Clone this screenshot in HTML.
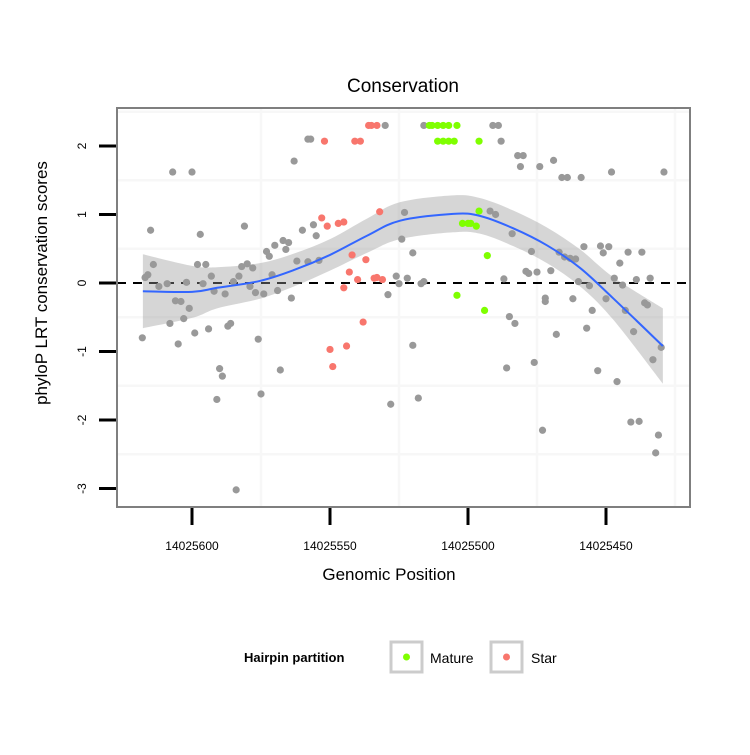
<!DOCTYPE html>
<html><head><meta charset="utf-8"><style>
html,body{margin:0;padding:0;background:#fff}
svg text{font-family:"Liberation Sans",sans-serif}
</style></head><body>
<svg id="chart" width="750" height="750" xmlns="http://www.w3.org/2000/svg">
<rect width="750" height="750" fill="#fff"/>
<text x="403" y="92" font-size="19" text-anchor="middle">Conservation</text>
<text x="389" y="580" font-size="17" text-anchor="middle">Genomic Position</text>
<text transform="translate(47,283) rotate(-90)" font-size="17" text-anchor="middle">phyloP LRT conservation scores</text>
<g id="grid"></g>
<g id="band-g"></g>
<g id="points-g"></g>
<g id="line-g"></g>
<rect x="117" y="108" width="573" height="399" fill="none" stroke="#7f7f7f" stroke-width="2"/>
<g id="axes"></g>
<g>
<text x="244" y="662" font-size="13" font-weight="bold">Hairpin partition</text>
<rect x="391" y="642" width="31" height="30" fill="#fff" stroke="#cccccc" stroke-width="3"/>
<circle cx="406.5" cy="657" r="3.5" fill="#7fff00"/>
<text x="430" y="663" font-size="14">Mature</text>
<rect x="491" y="642" width="31" height="30" fill="#fff" stroke="#cccccc" stroke-width="3"/>
<circle cx="506.5" cy="657" r="3.5" fill="#f8766d"/>
<text x="531" y="663" font-size="14">Star</text>
</g>
</svg>
<script>
const xTicks=[14025600,14025550,14025500,14025450];
const yTicks=[2,1,0,-1,-2,-3];
const greyPos=[14025530,14025558,14025557,14025563,14025607,14025600,14025615,14025597,14025581,14025560,14025556,14025555,14025523,14025524,14025573,14025572,14025570,14025567,14025565,14025566,14025598,14025595,14025614,14025616,14025617,14025612,14025609,14025602,14025596,14025593,14025592,14025588,14025585,14025583,14025582,14025580,14025578,14025579,14025577,14025574,14025571,14025569,14025564,14025562,14025558,14025554,14025526,14025525,14025529,14025606,14025604,14025601,14025608,14025603,14025618,14025605,14025599,14025594,14025587,14025586,14025576,14025590,14025589,14025568,14025575,14025591,14025528,14025584,
14025516,14025491,14025489,14025488,14025482,14025480,14025481,14025474,14025469,14025466,14025464,14025459,14025448,14025429,14025492,14025490,14025484,14025520,14025477,14025467,14025465,14025463,14025461,14025458,14025452,14025451,14025449,14025442,14025437,14025445,14025479,14025478,14025475,14025470,14025522,14025517,14025516,14025487,14025460,14025456,14025447,14025444,14025439,14025434,14025472,14025472,14025462,14025450,14025436,14025435,14025455,14025443,14025485,14025483,14025457,14025468,14025440,14025430,14025520,14025486,14025476,14025453,14025446,14025433,14025518,14025441,14025438,14025431,14025473,14025432];
const greyScore=[2.30,2.10,2.10,1.78,1.62,1.62,0.77,0.71,0.83,0.77,0.85,0.69,1.03,0.64,0.46,0.39,0.55,0.62,0.59,0.49,0.27,0.27,0.27,0.12,0.08,-0.05,-0.01,0.01,-0.01,0.10,-0.12,-0.16,0.02,0.10,0.24,0.28,0.22,-0.05,-0.14,-0.16,0.12,-0.11,-0.22,0.32,0.31,0.33,0.10,-0.01,-0.17,-0.26,-0.27,-0.37,-0.59,-0.52,-0.80,-0.89,-0.73,-0.67,-0.63,-0.59,-0.82,-1.25,-1.36,-1.27,-1.62,-1.70,-1.77,-3.02,
2.30,2.30,2.30,2.07,1.86,1.86,1.70,1.70,1.79,1.54,1.54,1.54,1.62,1.62,1.05,1.00,0.72,0.44,0.46,0.45,0.38,0.36,0.35,0.53,0.54,0.44,0.53,0.45,0.45,0.29,0.17,0.14,0.16,0.18,0.07,-0.01,0.02,0.06,0.02,-0.04,0.07,-0.03,0.05,0.07,-0.22,-0.27,-0.23,-0.23,-0.29,-0.32,-0.40,-0.40,-0.49,-0.59,-0.66,-0.75,-0.71,-0.94,-0.91,-1.24,-1.16,-1.28,-1.44,-1.12,-1.68,-2.03,-2.02,-2.22,-2.15,-2.48];
const starPos=[14025535,14025536,14025533,14025552,14025541,14025539,14025553,14025551,14025547,14025545,14025532,14025542,14025537,14025543,14025540,14025534,14025533,14025531,14025545,14025538,14025550,14025544,14025549];
const starScore=[2.30,2.30,2.30,2.07,2.07,2.07,0.95,0.83,0.87,0.89,1.04,0.41,0.34,0.16,0.05,0.07,0.08,0.05,-0.07,-0.57,-0.97,-0.92,-1.22];
const maturePos=[14025514,14025513,14025511,14025509,14025507,14025504,14025511,14025509,14025507,14025505,14025496,14025496,14025502,14025500,14025499,14025497,14025493,14025504,14025494];
const matureScore=[2.30,2.30,2.30,2.30,2.30,2.30,2.07,2.07,2.07,2.07,2.07,1.05,0.87,0.87,0.87,0.83,0.40,-0.18,-0.40];
const fitPos=[14025617.8,14025600,14025590.9,14025575.4,14025563,14025550,14025536.6,14025524.6,14025505.4,14025495.7,14025483.7,14025471.4,14025459.4,14025447.5,14025429.4];
const fitVal=[-0.12,-0.13,-0.07,0.03,0.19,0.41,0.69,0.91,1.01,0.98,0.80,0.55,0.22,-0.22,-0.92];
const fitSe=[0.54,0.38,0.30,0.26,0.24,0.23,0.25,0.27,0.27,0.26,0.26,0.26,0.27,0.31,0.55];

const NS='http://www.w3.org/2000/svg';
function X(p){return 192+(14025600-p)*138/50;}
function Y(s){return 283-s*68.5;}
function mk(tag,attrs,parent){const e=document.createElementNS(NS,tag);for(const k in attrs)e.setAttribute(k,attrs[k]);parent.appendChild(e);return e;}
const grid=document.getElementById('grid');
for(let i=0;i<xTicks.length;i++){
  const l=mk('line',{x1:X(xTicks[i]-25),x2:X(xTicks[i]-25),y1:108,y2:507,stroke:'#f7f7f7','stroke-width':2.5},grid);
  
  
}
for(let i=0;i<yTicks.length;i++){
  const l=mk('line',{x1:117,x2:690,y1:Y(yTicks[i]+0.5),y2:Y(yTicks[i]+0.5),stroke:'#f7f7f7','stroke-width':2.5},grid);
  
  
}
const hl=mk('line',{x1:117,x2:690,y1:Y(0),y2:Y(0),stroke:'#000','stroke-width':2,'stroke-dasharray':'9,7'},grid);



function spline(pts){
  let d='M'+pts[0][0]+','+pts[0][1];
  for(let i=0;i<pts.length-1;i++){
    const p0=pts[Math.max(0,i-1)],p1=pts[i],p2=pts[i+1],p3=pts[Math.min(pts.length-1,i+2)];
    const c1=[p1[0]+(p2[0]-p0[0])/6,p1[1]+(p2[1]-p0[1])/6];
    const c2=[p2[0]-(p3[0]-p1[0])/6,p2[1]-(p3[1]-p1[1])/6];
    d+=' C'+c1[0]+','+c1[1]+' '+c2[0]+','+c2[1]+' '+p2[0]+','+p2[1];
  }
  return d;
}
const up=fitPos.map((p,i)=>[X(p),Y(fitVal[i]+fitSe[i])]);
const lo=fitPos.map((p,i)=>[X(p),Y(fitVal[i]-fitSe[i])]).reverse();
const loD=spline(lo);
const bandD=spline(up)+' L'+lo[0][0]+','+lo[0][1]+loD.slice(loD.indexOf(' '))+' Z';
const band=mk('path',{d:bandD,fill:'#999','fill-opacity':0.4},document.getElementById('band-g'));



const pg=document.getElementById('points-g');
function drawPts(pos,sc,col,name){
  for(let i=0;i<pos.length;i++){
    const c=mk('circle',{cx:X(pos[i]),cy:Y(sc[i]),r:3.6,fill:col},pg);
    
    
  }
}
drawPts(greyPos,greyScore,'#999999','point-other');
drawPts(starPos,starScore,'#f8766d','point-star');
drawPts(maturePos,matureScore,'#7fff00','point-mature');

const line=mk('path',{d:spline(fitPos.map((p,i)=>[X(p),Y(fitVal[i])])),fill:'none',stroke:'#3366ff','stroke-width':2},document.getElementById('line-g'));



const ax=document.getElementById('axes');
for(let i=0;i<xTicks.length;i++){
  const t=mk('line',{x1:X(xTicks[i]),x2:X(xTicks[i]),y1:508,y2:525,stroke:'#000','stroke-width':3},ax);
  
  
  const tx=mk('text',{x:X(xTicks[i]),y:550,'font-size':12,'text-anchor':'middle'},ax);
  tx.textContent=String(xTicks[i]);
  
  
}
for(let i=0;i<yTicks.length;i++){
  const y=Y(yTicks[i]);
  const t=mk('line',{x1:99,x2:116,y1:y,y2:y,stroke:'#000','stroke-width':3},ax);
  
  
  const tx=mk('text',{transform:'translate(86,'+y+') rotate(-90)','font-size':12,'text-anchor':'middle'},ax);
  tx.textContent=String(yTicks[i]);
  
  
}
</script>
</body></html>
